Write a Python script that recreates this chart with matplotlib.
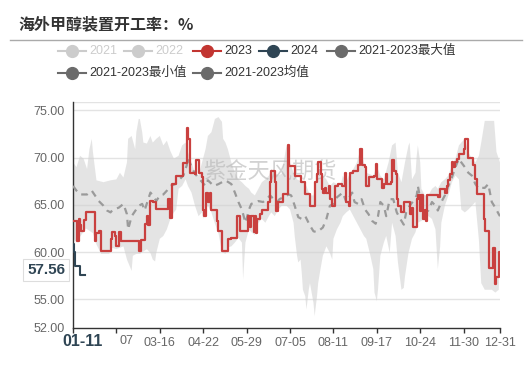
import matplotlib
matplotlib.use('Agg')
import matplotlib.pyplot as plt
from matplotlib.lines import Line2D
from matplotlib.patches import Rectangle

plt.rcParams['font.family'] = ['Liberation Sans', 'Noto Sans CJK SC']

# day index (0 = 01-01) and value pairs
y2023 = [(0, 63.3), (3, 61.2), (5, 63.5), (6, 62.9), (7, 62.2), (9, 63.4), (11, 64.2), (19, 61.2),
         (20, 62.0), (22, 62.2), (24, 60.1), (32, 61.4), (33, 62.1), (36, 61.7), (37, 60.6), (39, 62.1),
         (41, 61.2), (56, 60.1), (58, 61.3), (61, 63.0), (63, 63.8), (64, 62.9), (66, 65.4), (68, 65.3),
         (71, 64.6), (81, 65.6), (83, 63.6), (84, 67.2), (88, 68.1), (94, 69.4), (97, 73.1), (98, 72.0),
         (100, 68.4), (104, 68.3), (105, 69.7), (107, 68.4), (110, 67.9), (111, 64.5), (112, 63.8),
         (113, 66.3), (115, 65.3), (117, 66.3), (118, 64.5), (123, 63.3), (124, 62.2), (127, 60.1),
         (132, 61.4), (135, 61.5), (140, 63.8), (142, 62.2), (149, 63.8), (151, 62.6), (152, 63.8),
         (154, 62.1), (155, 63.8), (156, 62.0), (157, 63.5), (159, 64.0), (161, 64.5), (166, 65.3),
         (168, 67.4), (169, 68.6), (172, 67.4), (173, 64.4), (175, 65.3), (179, 66.2), (183, 71.3),
         (184, 69.1), (189, 68.1), (194, 67.4), (198, 66.2), (202, 64.9), (206, 67.4), (208, 68.3),
         (209, 69.5), (211, 68.3), (212, 66.7), (213, 66.3), (215, 66.8), (216, 66.3), (218, 67.0),
         (219, 65.6), (221, 64.9), (223, 67.0), (226, 67.2), (229, 67.0), (232, 68.4), (233, 65.3),
         (235, 64.9), (236, 68.4), (239, 68.6), (243, 69.2), (245, 70.9), (246, 69.2), (249, 69.0),
         (250, 67.0), (252, 67.9), (257, 68.1), (258, 69.3), (259, 67.7), (263, 66.8), (265, 67.2),
         (267, 68.3), (268, 67.2), (271, 67.4), (272, 69.7), (274, 68.6), (275, 68.3), (276, 65.6),
         (277, 64.9), (280, 64.2), (282, 65.3), (287, 64.0), (289, 64.7), (290, 62.6), (293, 65.6),
         (294, 66.0), (296, 64.4), (297, 66.0), (298, 63.5), (300, 64.5), (301, 63.3), (302, 66.0),
         (311, 65.8), (313, 66.7), (317, 66.3), (319, 67.0), (320, 67.6), (321, 68.3), (323, 69.5),
         (324, 69.0), (326, 69.5), (327, 69.9), (329, 70.4), (333, 70.9), (334, 72.0), (337, 70.0),
         (341, 69.2), (343, 67.7), (344, 66.1), (350, 63.5), (351, 62.2), (355, 58.3), (358, 60.4),
         (360, 56.6), (361, 57.4), (363, 60.0), (364, 60.0)]

y2024 = [(0, 60.9), (1, 60.0), (2, 58.5), (6, 57.56), (10, 57.56)]

mean_2123 = [(0, 67.0), (3, 66.5), (6, 66.1), (12, 66.1), (16, 66.5), (22, 65.4), (26, 64.9), (29, 64.4),
             (32, 64.2), (34, 64.5), (39, 64.7), (43, 65.1), (46, 64.0), (47, 62.4), (50, 63.8),
             (56, 64.9), (59, 65.1), (61, 64.4), (66, 66.3), (68, 66.0), (71, 65.4), (74, 66.0),
             (77, 66.1), (80, 66.5), (83, 67.0), (87, 67.2), (90, 67.6), (94, 68.1), (97, 69.2),
             (98, 70.0), (101, 69.0), (104, 68.3), (108, 67.7), (113, 67.0), (115, 67.6), (120, 67.0),
             (124, 67.2), (130, 67.6), (135, 67.2), (138, 66.3), (141, 65.3), (144, 64.5), (147, 63.1),
             (148, 63.5), (150, 64.5), (152, 65.1), (158, 65.4), (162, 65.3), (165, 65.6), (168, 66.0),
             (171, 65.6), (174, 65.3), (176, 65.6), (184, 66.1), (186, 66.0), (189, 64.9), (192, 63.7),
             (195, 63.5), (198, 63.8), (202, 62.8), (205, 62.2), (208, 62.1), (211, 62.4), (213, 62.6),
             (216, 63.5), (219, 64.9), (222, 65.1), (225, 65.8), (228, 66.1), (230, 66.3), (233, 65.3),
             (238, 66.3), (240, 65.3), (243, 65.1), (246, 65.6), (249, 64.5), (252, 64.0), (255, 63.3),
             (258, 63.0), (260, 63.8), (262, 65.3), (265, 64.9), (267, 63.8), (270, 65.6), (273, 65.6),
             (276, 64.2), (279, 63.5), (282, 62.9), (284, 64.2), (287, 64.9), (290, 65.4), (293, 66.0),
             (294, 67.0), (297, 64.9), (300, 64.2), (303, 64.4), (306, 65.3), (309, 64.9), (311, 64.4),
             (314, 65.3), (317, 66.0), (320, 67.0), (323, 67.9), (326, 69.0), (329, 69.9), (331, 69.5),
             (334, 69.0), (337, 68.4), (340, 68.1), (343, 67.2), (346, 66.7), (348, 66.8), (351, 66.8),
             (354, 67.2), (357, 65.3), (360, 64.7), (363, 64.0), (364, 63.8)]

max_2123 = [(0, 69.5), (3, 69.0), (6, 70.2), (9, 69.9), (12, 68.8), (14, 70.9), (16, 72.0), (17, 70.6),
            (20, 67.6), (26, 67.4), (32, 67.6), (37, 67.7), (40, 68.4), (43, 67.9), (46, 69.5), (47, 72.0),
            (50, 72.3), (53, 70.9), (54, 72.7), (56, 74.1), (57, 74.1), (59, 72.7), (60, 71.6), (63, 71.5),
            (66, 72.3), (68, 71.6), (71, 72.0), (74, 72.3), (77, 71.3), (80, 71.8), (83, 70.7), (86, 69.9),
            (90, 70.2), (93, 71.3), (96, 71.6), (98, 70.6), (101, 69.5), (104, 68.4), (107, 68.1),
            (110, 69.5), (113, 70.9), (115, 72.3), (118, 72.7), (121, 74.1), (124, 74.3), (127, 73.8),
            (128, 72.0), (130, 71.6), (132, 70.9), (135, 69.5), (138, 68.4), (141, 67.7), (144, 67.4),
            (147, 67.0), (150, 66.7), (152, 66.3), (155, 66.0), (158, 66.7), (161, 67.4), (164, 67.7),
            (167, 68.1), (169, 68.8), (172, 68.4), (175, 68.1), (178, 68.3), (182, 71.3), (185, 69.5),
            (188, 68.4), (191, 67.7), (196, 67.4), (199, 67.0), (202, 66.0), (205, 66.0), (208, 67.7),
            (209, 69.5), (211, 68.4), (213, 68.1), (216, 67.7), (219, 67.0), (222, 67.4), (228, 67.0),
            (230, 68.1), (233, 67.4), (236, 68.4), (239, 68.8), (242, 69.5), (245, 70.9), (248, 69.5),
            (250, 68.4), (256, 68.1), (259, 69.1), (262, 68.1), (265, 67.7), (269, 69.5), (272, 71.3),
            (275, 71.6), (277, 68.4), (280, 67.4), (283, 69.5), (286, 71.3), (287, 71.6), (289, 67.7),
            (292, 68.4), (293, 70.2), (294, 71.3), (296, 69.5), (297, 66.7), (300, 66.0), (303, 66.0),
            (306, 66.7), (309, 67.0), (311, 66.7), (314, 67.4), (317, 67.7), (320, 68.1), (323, 69.2),
            (326, 69.9), (329, 71.3), (331, 71.6), (334, 72.0), (337, 70.6), (340, 69.9), (343, 69.5),
            (346, 70.2), (348, 71.6), (351, 73.9), (359, 73.9), (361, 70.6), (364, 69.5)]

min_2123 = [(0, 61.5), (3, 61.0), (7, 61.8), (11, 62.5), (17, 62.0), (20, 60.8), (24, 59.8), (31, 59.8),
            (32, 60.5), (37, 60.3), (43, 60.6), (46, 59.2), (50, 58.0), (51, 59.6), (54, 59.8), (57, 59.8),
            (63, 60.3), (66, 59.9), (68, 59.2), (70, 59.0), (71, 59.9), (74, 61.4), (77, 61.7), (80, 62.4),
            (83, 63.5), (86, 64.2), (88, 64.5), (90, 66.7), (93, 67.0), (96, 67.7), (98, 67.0), (101, 66.3),
            (104, 64.9), (107, 63.8), (110, 64.2), (111, 63.5), (113, 64.5), (115, 64.9), (118, 64.2),
            (121, 63.0), (124, 62.0), (127, 60.0), (130, 59.8), (132, 60.5), (135, 60.6), (138, 61.0),
            (141, 61.5), (144, 61.0), (145, 57.1), (147, 61.0), (150, 62.4), (152, 62.1), (155, 61.8),
            (158, 63.1), (161, 63.5), (164, 63.1), (167, 63.8), (169, 64.2), (172, 63.8), (175, 64.5),
            (178, 64.9), (182, 64.9), (185, 64.5), (188, 63.1), (189, 61.7), (191, 59.6), (192, 58.9),
            (194, 59.2), (195, 57.8), (196, 56.0), (198, 55.3), (199, 53.9), (201, 56.0), (202, 56.7),
            (204, 55.3), (205, 54.6), (206, 53.2), (208, 55.3), (209, 56.7), (211, 58.2), (212, 58.9),
            (213, 59.6), (216, 60.6), (219, 59.9), (221, 59.2), (222, 61.4), (225, 62.4), (228, 63.1),
            (230, 63.8), (233, 64.2), (236, 64.5), (239, 63.8), (242, 63.1), (245, 62.4), (248, 61.7),
            (250, 61.4), (253, 59.9), (256, 58.2), (257, 55.7), (259, 54.8), (260, 56.0), (262, 59.6),
            (265, 61.0), (267, 61.7), (270, 59.9), (272, 63.1), (275, 61.7), (277, 58.9), (280, 56.0),
            (282, 56.2), (283, 57.4), (286, 59.9), (289, 61.4), (292, 62.1), (294, 63.1), (300, 63.5),
            (303, 63.8), (306, 63.5), (309, 62.4), (311, 58.2), (313, 60.6), (314, 63.1), (317, 64.9),
            (320, 66.0), (323, 67.4), (326, 68.1), (329, 67.7), (331, 64.5), (334, 64.2), (337, 64.5),
            (340, 64.9), (343, 65.3), (346, 61.3), (348, 56.7), (351, 56.0), (357, 56.0), (360, 55.7),
            (363, 56.0), (364, 60.8)]

# first two labels are hidden under the hover label; only "07" of 02-07 shows
tick_days = [0, 37, 74, 111, 148, 185, 222, 259, 296, 333, 364]
tick_labels = ['', '', '03-16', '04-22', '05-29', '07-05', '08-11', '09-17', '10-24', '11-30', '12-31']
y_ticks = [52, 55, 60, 65, 70, 75]
hover_day, hover_value = '01-11', 57.56

legend_names = ['2021', '2022', '2023', '2024', '2021-2023最大值', '2021-2023最小值', '2021-2023均值']
legend_colors = ['#cccccc', '#cccccc', '#c23531', '#2f4554', '#6b6b6b', '#6b6b6b', '#6b6b6b']
legend_text_colors = ['#cccccc', '#cccccc', '#333333', '#333333', '#333333', '#333333', '#333333']

W, H = 531, 370
fig = plt.figure(figsize=(W / 100, H / 100), dpi=100)


def fx(px):
    return px / W


def fy(py):
    return 1 - py / H


ax = fig.add_axes([fx(73), fy(327.5), fx(500) - fx(73), fy(102) - fy(327.5)])


def unzip(pairs):
    return [p[0] for p in pairs], [p[1] for p in pairs]


# band between min and max
dmax, vmax = unzip(max_2123)
dmin, vmin = unzip(min_2123)
ax.fill(dmax + dmin[::-1], vmax + vmin[::-1], color='#cfcfcf', alpha=0.55, lw=0, zorder=2)

dm, vm = unzip(mean_2123)
ax.plot(dm, vm, color='#9a9a9a', lw=1.6, linestyle=(0, (3, 2.5)), zorder=3)

ax.text(0.46, 0.69, '紫金天风期货', transform=ax.transAxes, fontsize=16, color='#b5b5b5',
        alpha=0.6, ha='center', va='center', zorder=3, family=['Noto Sans CJK SC'])

d23, v23 = unzip(y2023)
ax.plot(d23, v23, color='#c9403f', lw=1.6, drawstyle='steps-post', zorder=4)
d24, v24 = unzip(y2024)
ax.plot(d24, v24, color='#2f4554', lw=1.5, drawstyle='steps-post', zorder=5)

ax.set_xlim(0, 364)
ax.set_ylim(52, 75.9)
ax.set_yticks(y_ticks)
ax.set_yticklabels(['%.2f' % v for v in y_ticks])
ax.set_xticks(tick_days)
ax.set_xticklabels(tick_labels)
for v in y_ticks[1:] + [75.9]:
    ax.axhline(v, color='#e3e3e3', lw=1, zorder=1)

for s in ['top', 'right']:
    ax.spines[s].set_visible(False)
for s in ['left', 'bottom']:
    ax.spines[s].set_color('#333333')
    ax.spines[s].set_linewidth(1)
ax.tick_params(axis='y', length=0, pad=6, labelsize=9, labelcolor='#666666')
ax.tick_params(axis='x', length=3.5, width=1, color='#333333', pad=3, labelsize=9, labelcolor='#666666')

# visible tail of the covered 02-07 label
fig.text(fx(119), fy(341), '07', fontsize=9, color='#666666', ha='left', va='center')

# hover pointer labels
fig.text(fx(83), fy(341), hover_day, fontsize=11.5, fontweight='bold', color='#2f4554',
         ha='center', va='center', zorder=11)
fig.text(fx(46), fy(270), '%.2f' % hover_value, fontsize=11, fontweight='bold', color='#2f4554',
         ha='center', va='center', zorder=11,
         bbox=dict(boxstyle='square,pad=0.25', fc='white', ec='#dddddd', lw=0.8))

# title and separator
fig.text(fx(18), fy(24), '海外甲醇装置开工率：%', fontsize=11.5, fontweight='bold',
         color='#333333', ha='left', va='center', family=['Noto Sans CJK SC'])
fig.add_artist(Line2D([fx(10), fx(522)], [fy(40), fy(40)], color='#aaaaaa', lw=1))

# legend
leg_pos = [(72, 51), (138, 51), (207, 51), (273, 51), (341, 51), (72, 73), (207, 73)]
for (cx, cy), name, c, tc in zip(leg_pos, legend_names, legend_colors, legend_text_colors):
    fig.add_artist(Line2D([fx(cx - 14), fx(cx + 14)], [fy(cy), fy(cy)], color=c, lw=1.5))
    fig.add_artist(Line2D([fx(cx)], [fy(cy)], color=c, marker='o', ms=8.5, lw=0))
    fig.text(fx(cx + 17), fy(cy), name, fontsize=9, color=tc, ha='left', va='center')

fig.savefig('out.png', dpi=100)
